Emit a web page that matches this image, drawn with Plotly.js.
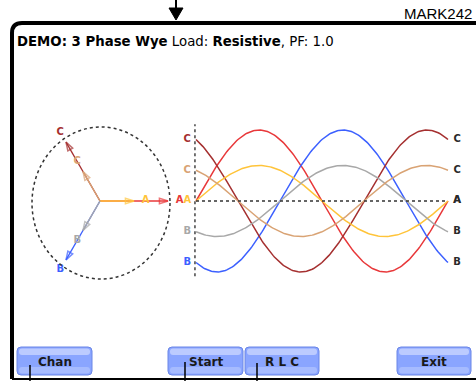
<!DOCTYPE html>
<html><head><meta charset="utf-8">
<script src="https://cdn.plot.ly/plotly-3.0.1.min.js"></script>
<style>html,body{margin:0;padding:0;background:#fff}#c{width:476px;height:381px}</style>
</head><body><div id="c"></div>
<script>
// ---- data ----
const phases = ['A', 'B', 'C'];
const phaseAngles = [0, -120, 120];          // degrees
const voltageAmp = [1.0, 1.0, 1.0];          // normalized peak (large traces)
const currentAmp = [0.5, 0.5, 0.5];          // normalized peak (small traces), PF 1.0 -> in phase
const voltageColors = ['#e8383a', '#3c60ff', '#a53030'];
const currentColors = ['#ffc43a', '#a8a8a8', '#d9a374'];
const buttons = ['Chan', 'Start', 'R L C', 'Exit'];
const titleParts = ['DEMO: 3 Phase Wye', 'Load:', 'Resistive', ', PF: 1.0'];

// ---- build ----
const rad = d => d * Math.PI / 180;
const traces = [];
const W = 476, H = 381;
const px = x => x / W, py = y => 1 - y / H;

// waveform sampling over one cycle (degrees)
const theta = [];
for (let t = 0; t <= 360; t += 2) theta.push(t);

[0, 1, 2].forEach(i => {
  traces.push({x: theta, y: theta.map(t => voltageAmp[i] * Math.sin(rad(t + phaseAngles[i]))),
    xaxis: 'x2', yaxis: 'y2', mode: 'lines', line: {color: voltageColors[i], width: 1.5}});
});
[0, 1, 2].forEach(i => {
  traces.push({x: theta, y: theta.map(t => currentAmp[i] * Math.sin(rad(t + phaseAngles[i]))),
    xaxis: 'x2', yaxis: 'y2', mode: 'lines', line: {color: currentColors[i], width: 1.5}});
});

// left wave labels (colored), right wave labels (dark)
const leftLab = {x: [], y: [], text: [], color: []};
const rightLab = {x: [], y: [], text: []};
[[voltageAmp, voltageColors], [currentAmp, currentColors]].forEach(([amp, col]) => {
  phases.forEach((p, i) => {
    const v = amp[i] * Math.sin(rad(phaseAngles[i]));
    if (!(p === 'A' && amp === voltageAmp)) {
      leftLab.x.push(-12.5); leftLab.y.push(v); leftLab.text.push('<b>' + p + '</b>'); leftLab.color.push(col[i]);
    }
    rightLab.x.push(373); rightLab.y.push(v); rightLab.text.push('<b>' + p + '</b>');
  });
});
traces.push({x: leftLab.x, y: leftLab.y, text: leftLab.text, mode: 'text', xaxis: 'x2', yaxis: 'y2',
  textfont: {family: 'DejaVu Sans', size: 10, color: leftLab.color}, cliponaxis: false});
traces.push({x: rightLab.x, y: rightLab.y, text: rightLab.text, mode: 'text', xaxis: 'x2', yaxis: 'y2',
  textfont: {family: 'DejaVu Sans', size: 10, color: '#2a2a2a'}, cliponaxis: false});

// phasors: voltage first, current drawn on top
[[voltageAmp, voltageColors], [currentAmp, currentColors]].forEach(([amp, col]) => {
  phases.forEach((p, i) => {
    const c = Math.cos(rad(phaseAngles[i])), s = Math.sin(rad(phaseAngles[i]));
    traces.push({x: [0, amp[i] * c], y: [0, amp[i] * s], mode: 'lines+markers', xaxis: 'x', yaxis: 'y',
      line: {color: col[i], width: 1.3},
      marker: {symbol: 'arrow-open', size: [0, 9], angleref: 'previous', color: col[i], line: {color: col[i], width: 1.5}},
      cliponaxis: false});
    const L = amp[i] + 0.17;
    traces.push({x: [L * c], y: [L * s], text: ['<b>' + p + '</b>'], mode: 'text', xaxis: 'x', yaxis: 'y',
      textfont: {family: 'DejaVu Sans', size: 10, color: col[i]}, cliponaxis: false});
  });
});

// ---- layout decorations (pixel coords on overlay axis x3/y3) ----
const shapes = [];
const ov = {xref: 'x3', yref: 'y3'};
shapes.push(Object.assign({type: 'path', path: 'M 12,379 L 12,33 Q 12,23 22,23 L 482,23', line: {color: '#000', width: 4}}, ov));
shapes.push(Object.assign({type: 'line', x0: 12, x1: 480, y0: 379, y1: 379, line: {color: '#000', width: 2}}, ov));
shapes.push(Object.assign({type: 'line', x0: 176, x1: 176, y0: 0, y1: 9, line: {color: '#000', width: 2}}, ov));
shapes.push(Object.assign({type: 'path', path: 'M 169,8 L 183,8 L 176,20 Z', fillcolor: '#000', line: {color: '#000', width: 1}}, ov));
shapes.push(Object.assign({type: 'circle', x0: 32, x1: 170, y0: 127, y1: 279, line: {color: '#333', width: 1.5, dash: 'dot'}}, ov));
shapes.push({type: 'line', xref: 'x2', yref: 'y2', x0: 0, x1: 360, y0: 0, y1: 0, line: {color: '#333', width: 1.5, dash: 'dot'}});
shapes.push({type: 'line', xref: 'x2', yref: 'y2', x0: -1.5, x1: -1.5, y0: -1.06, y1: 1.08, line: {color: '#444', width: 1.5, dash: 'dot'}});

const btnX = [[17, 92], [168, 243], [245, 319], [397, 471]];
const annotations = [];
const rr = (x0, y0, x1, y1, r) => `M ${x0 + r},${y0} L ${x1 - r},${y0} Q ${x1},${y0} ${x1},${y0 + r} L ${x1},${y1 - r} Q ${x1},${y1} ${x1 - r},${y1} L ${x0 + r},${y1} Q ${x0},${y1} ${x0},${y1 - r} L ${x0},${y0 + r} Q ${x0},${y0} ${x0 + r},${y0} Z`;
buttons.forEach((b, i) => {
  const [x0, x1] = btnX[i];
  shapes.push(Object.assign({type: 'path', path: rr(x0, 347, x1, 375, 4), fillcolor: '#8aa5ff', line: {color: '#6a86e6', width: 1}}, ov));
  shapes.push(Object.assign({type: 'path', path: rr(x0 + 2, 348.5, x1 - 2, 355, 3), fillcolor: '#bccbff', line: {width: 0}}, ov));
  shapes.push(Object.assign({type: 'path', path: rr(x0 + 2, 367, x1 - 2, 373.5, 3), fillcolor: '#a6bbff', line: {width: 0}}, ov));
  annotations.push({xref: 'x3', yref: 'y3', x: (x0 + x1) / 2, y: 362, text: '<b>' + b + '</b>', showarrow: false,
    font: {family: 'DejaVu Sans', size: 12, color: '#1a1a1a'}, xanchor: 'center', yanchor: 'middle'});
});
[[30, 365], [185, 362], [257, 363]].forEach(([x, y]) => {
  shapes.push(Object.assign({type: 'line', x0: x, x1: x, y0: y, y1: 381, line: {color: '#000', width: 1.5}}, ov));
});

annotations.push({xref: 'x3', yref: 'y3', x: 15, y: 41, xanchor: 'left', yanchor: 'middle', showarrow: false,
  text: '<b>' + titleParts[0] + '</b> ' + titleParts[1] + ' <b>' + titleParts[2] + '</b>' + titleParts[3],
  font: {family: 'DejaVu Sans', size: 13.3, color: '#000'}});
annotations.push({xref: 'x3', yref: 'y3', x: 474, y: 13, xanchor: 'right', yanchor: 'middle', showarrow: false,
  text: 'MARK242', font: {family: 'Liberation Sans', size: 15, color: '#000'}});

const hid = {visible: false, fixedrange: true};
const pxPerDeg = 252 / 360;
const xr2 = [-18, 378];
const layout = {
  width: W, height: H, margin: {l: 0, r: 0, t: 0, b: 0}, showlegend: false,
  paper_bgcolor: '#fff', plot_bgcolor: 'rgba(0,0,0,0)',
  xaxis: Object.assign({domain: [px(100 - 68 * 1.3), px(100 + 68 * 1.3)], range: [-1.3, 1.3], anchor: 'y'}, hid),
  yaxis: Object.assign({domain: [py(201 + 68 * 1.3), py(201 - 68 * 1.3)], range: [-1.3, 1.3], anchor: 'x'}, hid),
  xaxis2: Object.assign({domain: [px(196 + xr2[0] * pxPerDeg), px(196 + xr2[1] * pxPerDeg)], range: xr2, anchor: 'y2'}, hid),
  yaxis2: Object.assign({domain: [py(201 + 71 * 1.2), py(201 - 71 * 1.2)], range: [-1.2, 1.2], anchor: 'x2'}, hid),
  xaxis3: Object.assign({domain: [0, 1], range: [0, W], anchor: 'y3'}, hid),
  yaxis3: Object.assign({domain: [0, 1], range: [H, 0], anchor: 'x3'}, hid),
  shapes: shapes, annotations: annotations
};
Plotly.newPlot('c', traces, layout, {staticPlot: true, displayModeBar: false});
</script></body></html>
